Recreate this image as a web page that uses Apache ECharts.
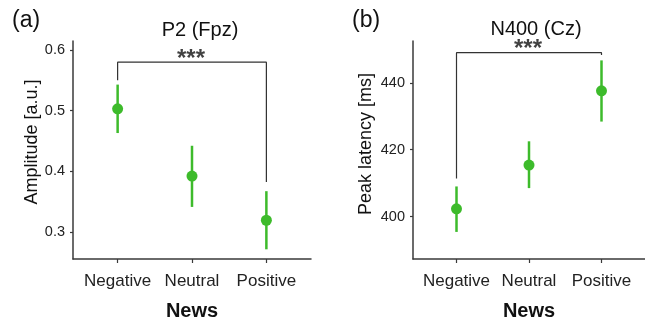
<!DOCTYPE html>
<html>
<head>
<meta charset="utf-8">
<script src="https://cdn.jsdelivr.net/npm/echarts@6/dist/echarts.min.js"></script>
<style>
  html, body { margin: 0; padding: 0; background: #fff; }
  #chart { width: 645px; height: 326px; }
</style>
</head>
<body>
<div id="chart"></div>
<script>
// categories on x
const categories = ['Negative', 'Neutral', 'Positive'];

// (a) P2 amplitude: mean, error low, error high
const p2Mean = [0.503, 0.392, 0.319];
const p2Low = [0.463, 0.341, 0.271];
const p2High = [0.543, 0.442, 0.367];
const p2Ticks = [0.3, 0.4, 0.5, 0.6];
// significance bracket (x, y) points
const p2Bracket = [[0, 0.550], [0, 0.580], [2, 0.580], [2, 0.382]];
const p2Star = [1, 0.580];

// (b) N400 peak latency
const n4Mean = [402.3, 415.4, 437.6];
const n4Low = [395.4, 408.5, 428.4];
const n4High = [409.0, 422.5, 446.7];
const n4Ticks = [400, 420, 440];
const n4Bracket = [[0, 411.4], [0, 449.0], [2, 449.0], [2, 448.3]];
const n4Star = [1, 449.0];

const green = '#3dbb2b';
const axisColor = '#3a3a3a';
const font = 'Liberation Sans, Arial, sans-serif';

const chart = echarts.init(document.getElementById('chart'));

function xAxisOf(idx) {
    return {
        type: 'value', gridIndex: idx, min: -0.6, max: 2.6,
        name: 'News', nameLocation: 'middle', nameGap: 42,
        nameTextStyle: { fontFamily: font, fontSize: 20, fontWeight: 'bold', color: '#111' },
        axisLine: { show: true, onZero: false, lineStyle: { color: axisColor, width: 1.5 } },
        axisTick: { show: true, customValues: [0, 1, 2], length: 4, lineStyle: { color: axisColor, width: 1.2 } },
        axisLabel: {
            customValues: [0, 1, 2], margin: 14,
            fontFamily: font, fontSize: 17, color: '#222',
            formatter: v => categories[Math.round(v)]
        },
        splitLine: { show: false }
    };
}

function yAxisOf(idx, min, max, ticks, name, gap, shift, fmt) {
    return {
        type: 'value', gridIndex: idx, min: min, max: max,
        name: name, nameLocation: 'middle', nameGap: gap, nameRotate: 90,
        nameTextStyle: { fontFamily: font, fontSize: 18, color: '#111', padding: [0, 0, 0, shift] },
        axisLine: { show: true, onZero: false, lineStyle: { color: axisColor, width: 1.5 } },
        axisTick: { show: true, customValues: ticks, length: 3, lineStyle: { color: axisColor, width: 1.2 } },
        axisLabel: { customValues: ticks, margin: 8, fontFamily: font, fontSize: 14.5, color: '#222', formatter: fmt },
        splitLine: { show: false }
    };
}

function errorSeries(idx, low, high) {
    return {
        type: 'custom', xAxisIndex: idx, yAxisIndex: idx, z: 2,
        data: low.map((l, i) => [i, l, high[i]]),
        renderItem: (params, api) => {
            const a = api.coord([api.value(0), api.value(1)]);
            const b = api.coord([api.value(0), api.value(2)]);
            return {
                type: 'line',
                shape: { x1: a[0], y1: a[1], x2: b[0], y2: b[1] },
                style: { stroke: green, lineWidth: 2.5 }
            };
        }
    };
}

function meanSeries(idx, mean) {
    return {
        type: 'scatter', xAxisIndex: idx, yAxisIndex: idx, z: 3,
        symbolSize: 11, itemStyle: { color: green, opacity: 1 },
        data: mean.map((m, i) => [i, m])
    };
}

function bracketSeries(idx, pts) {
    return {
        type: 'line', xAxisIndex: idx, yAxisIndex: idx, symbol: 'none',
        lineStyle: { color: '#333', width: 1.2 }, data: pts, z: 1
    };
}

function starSeries(idx, pt) {
    return {
        type: 'scatter', xAxisIndex: idx, yAxisIndex: idx, symbolSize: 0,
        data: [pt],
        label: {
            show: true, position: 'inside', offset: [-1, -3], formatter: '***',
            fontFamily: font, fontSize: 24, fontWeight: 'bold', color: '#111'
        }
    };
}

const option = {
    animation: false,
    grid: [
        { left: 73, top: 41, width: 238, height: 225 },
        { left: 413, top: 41, width: 242, height: 225 }
    ],
    title: [
        { text: 'P2 (Fpz)', left: 195, top: 15, textAlign: 'center',
          textStyle: { fontFamily: font, fontSize: 20, fontWeight: 'normal', color: '#111' } },
        { text: 'N400 (Cz)', left: 531, top: 14, textAlign: 'center',
          textStyle: { fontFamily: font, fontSize: 20, fontWeight: 'normal', color: '#111' } }
    ],
    graphic: [
        { type: 'text', left: 12, top: 9, style: { text: '(a)', fontFamily: font, fontSize: 23, fill: '#111' } },
        { type: 'text', left: 352, top: 9, style: { text: '(b)', fontFamily: font, fontSize: 23, fill: '#111' } }
    ],
    xAxis: [xAxisOf(0), xAxisOf(1)],
    yAxis: [
        yAxisOf(0, 0.255, 0.615, p2Ticks, 'Amplitude [a.u.]', 32, 16, v => v.toFixed(1)),
        yAxisOf(1, 387.3, 452.5, n4Ticks, 'Peak latency [ms]', 38, 12, v => String(v))
    ],
    series: [
        bracketSeries(0, p2Bracket), starSeries(0, p2Star),
        errorSeries(0, p2Low, p2High), meanSeries(0, p2Mean),
        bracketSeries(1, n4Bracket), starSeries(1, n4Star),
        errorSeries(1, n4Low, n4High), meanSeries(1, n4Mean)
    ]
};
chart.setOption(option);
</script>
</body>
</html>
